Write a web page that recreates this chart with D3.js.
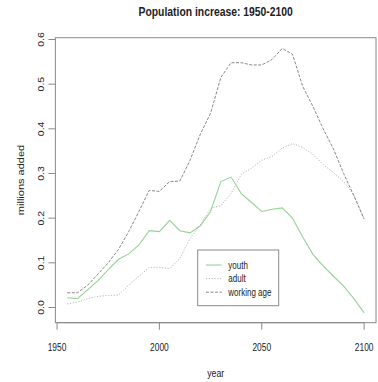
<!DOCTYPE html>
<html>
<head>
<meta charset="utf-8">
<script src="https://cdn.jsdelivr.net/npm/d3@7"></script>
<style>
  body { margin: 0; background: #fff; }
  text { font-family: "Liberation Sans", Arial, sans-serif; fill: #222; }
</style>
</head>
<body>
<div id="graph"></div>
<script>
// data, every 5 years
const years = d3.range(1955, 2101, 5)
const youth = [0.022, 0.020, 0.040, 0.060, 0.085, 0.108, 0.120, 0.140, 0.172, 0.170,
  0.195, 0.172, 0.167, 0.183, 0.215, 0.282, 0.292, 0.255, 0.235, 0.215,
  0.220, 0.223, 0.200, 0.158, 0.119, 0.093, 0.070, 0.048, 0.020, -0.012]
const adult = [0.008, 0.012, 0.020, 0.025, 0.027, 0.028, 0.050, 0.070, 0.090, 0.090,
  0.087, 0.110, 0.155, 0.185, 0.222, 0.228, 0.255, 0.298, 0.312, 0.330,
  0.338, 0.357, 0.367, 0.358, 0.343, 0.320, 0.302, 0.282, 0.252, 0.198]
const working = [0.033, 0.033, 0.050, 0.075, 0.100, 0.130, 0.170, 0.215, 0.262, 0.260,
  0.282, 0.283, 0.330, 0.388, 0.435, 0.515, 0.548, 0.548, 0.543, 0.543,
  0.555, 0.580, 0.567, 0.495, 0.450, 0.400, 0.355, 0.300, 0.250, 0.198]
const seriesNames = ["youth", "adult", "working age"]
const xTicks = [1950, 2000, 2050, 2100]
const yTicks = [0.0, 0.1, 0.2, 0.3, 0.4, 0.5, 0.6]

let width = 378, height = 382
let svg = d3.select("#graph").append("svg")
    .attr("width", width).attr("height", height)

let x = d3.scaleLinear().domain([1949.2, 2105.8]).range([55.4, 376])
let y = d3.scaleLinear().domain([-0.034, 0.604]).range([322.7, 37.7])

const sq = 0.8 // text in the picture is squeezed sideways

// series
let styles = [
  {data: youth, color: "#96d396", dash: null, w: 1.1},
  {data: adult, color: "#b8b8b8", dash: "1.2,1.6", w: 1},
  {data: working, color: "#7a7a7a", dash: "3,1.5", w: 0.9}
]
let line = d3.line().x((d, i) => x(years[i])).y(d => y(d))
styles.forEach(s => {
  svg.append("path").datum(s.data)
    .attr("d", line)
    .attr("fill", "none")
    .attr("stroke", s.color)
    .attr("stroke-width", s.w)
    .attr("stroke-dasharray", s.dash)
})

// box
svg.append("rect")
  .attr("x", x.range()[0]).attr("y", y.range()[1])
  .attr("width", x.range()[1] - x.range()[0])
  .attr("height", y.range()[0] - y.range()[1])
  .attr("fill", "none").attr("stroke", "#8a8a8a")

// x axis
let xa = svg.append("g").attr("transform", "translate(0," + y.range()[0] + ")")
xa.append("line").attr("x1", x(1950)).attr("x2", x(2100))
  .attr("stroke", "#8a8a8a")
xTicks.forEach(t => {
  xa.append("line").attr("x1", x(t)).attr("x2", x(t)).attr("y1", 0).attr("y2", 7)
    .attr("stroke", "#8a8a8a")
  xa.append("text")
    .attr("transform", "translate(" + x(t) + ",28) scale(" + sq + ",1)")
    .attr("text-anchor", "middle").attr("font-size", 10.5).text(t)
})

// y axis
let ya = svg.append("g").attr("transform", "translate(" + x.range()[0] + ",0)")
yTicks.forEach(t => {
  ya.append("line").attr("x1", 0).attr("x2", -7).attr("y1", y(t)).attr("y2", y(t))
    .attr("stroke", "#8a8a8a")
  ya.append("text")
    .attr("transform", "translate(-11," + y(t) + ") scale(" + sq + ",1) rotate(-90)")
    .attr("text-anchor", "middle").attr("font-size", 10.5).text(t.toFixed(1))
})

// titles
svg.append("text")
  .attr("transform", "translate(215.7,15.5) scale(0.83,1)")
  .attr("text-anchor", "middle").attr("font-size", 12.5).attr("font-weight", "bold")
  .text("Population increase: 1950-2100")
svg.append("text")
  .attr("transform", "translate(215.7,377) scale(" + sq + ",1)")
  .attr("text-anchor", "middle").attr("font-size", 11).text("year")
svg.append("text")
  .attr("transform", "translate(24,180) scale(" + sq + ",1) rotate(-90)")
  .attr("text-anchor", "middle").attr("font-size", 11).text("millions added")

// legend
let lg = svg.append("g").attr("transform", "translate(197.7,250)")
lg.append("rect").attr("width", 81).attr("height", 55.7)
  .attr("fill", "#fff").attr("stroke", "#8a8a8a")
seriesNames.forEach((n, i) => {
  let yy = 15 + i * 13.6
  lg.append("line").attr("x1", 8.3).attr("x2", 24).attr("y1", yy).attr("y2", yy)
    .attr("stroke", styles[i].color).attr("stroke-width", styles[i].w)
    .attr("stroke-dasharray", styles[i].dash)
  lg.append("text")
    .attr("transform", "translate(30.6," + (yy + 3.5) + ") scale(" + sq + ",1)")
    .attr("font-size", 10).text(n)
})
</script>
</body>
</html>
